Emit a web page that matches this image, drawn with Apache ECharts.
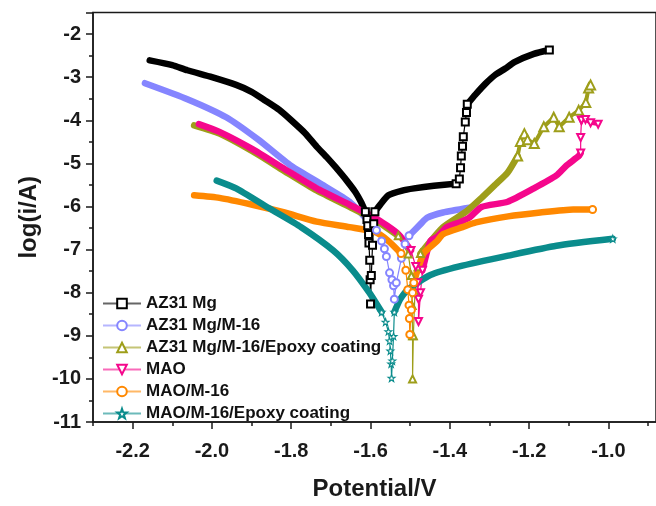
<!DOCTYPE html>
<html><head><meta charset="utf-8">
<script src="https://cdn.jsdelivr.net/npm/echarts@6/dist/echarts.min.js"></script>
<style>html,body{margin:0;padding:0;background:#fff}#chart{width:656px;height:506px}</style>
</head><body><div id="chart"></div>
<script>
// ---------------- data ----------------
const seriesNames = ['AZ31 Mg', 'AZ31 Mg/M-16', 'AZ31 Mg/M-16/Epoxy coating', 'MAO', 'MAO/M-16', 'MAO/M-16/Epoxy coating'];
const xTickLabels = [-2.2, -2.0, -1.8, -1.6, -1.4, -1.2, -1.0];
const xMinorTicks = [-2.3, -2.1, -1.9, -1.7, -1.5, -1.3, -1.1, -0.9];

// AZ31 Mg  [potential V, log(i/A)]
const az31Cath = [[-2.157,-2.61],[-2.10,-2.72],[-2.062,-2.84],[-2.00,-3.00],[-1.939,-3.18],[-1.90,-3.34],[-1.866,-3.54],[-1.83,-3.76],[-1.800,-4.00],[-1.765,-4.30],[-1.736,-4.61],[-1.71,-4.86],[-1.687,-5.10],[-1.66,-5.40],[-1.638,-5.67],[-1.625,-5.88],[-1.613,-6.12]];
const az31Spike = [[-1.613,-6.12],[-1.609,-6.30],[-1.607,-6.45],[-1.605,-6.65],[-1.604,-6.85],[-1.602,-7.25],[-1.601,-7.70],[-1.600,-8.26],[-1.598,-7.60],[-1.595,-6.90],[-1.592,-6.40],[-1.589,-6.12]];
const az31Anod1 = [[-1.589,-6.12],[-1.575,-5.95],[-1.555,-5.74],[-1.52,-5.63],[-1.490,-5.58],[-1.44,-5.52],[-1.384,-5.47]];
const az31Jump = [[-1.384,-5.47],[-1.376,-5.36],[-1.373,-5.10],[-1.371,-4.83],[-1.368,-4.60],[-1.366,-4.38],[-1.361,-4.04],[-1.358,-3.82],[-1.356,-3.63]];
const az31Anod2 = [[-1.356,-3.63],[-1.335,-3.40],[-1.31,-3.15],[-1.286,-2.95],[-1.26,-2.80],[-1.237,-2.65],[-1.188,-2.46],[-1.149,-2.37]];

// AZ31 Mg/M-16
const m16Cath = [[-2.169,-3.14],[-2.062,-3.51],[-1.964,-3.93],[-1.883,-4.45],[-1.800,-5.06],[-1.719,-5.51],[-1.653,-5.89],[-1.604,-6.35],[-1.585,-6.55]];
const m16Spike = [[-1.585,-6.55],[-1.572,-6.80],[-1.565,-6.98],[-1.560,-7.16],[-1.552,-7.54],[-1.546,-7.70],[-1.542,-7.84],[-1.540,-8.15],[-1.535,-7.77],[-1.522,-7.20],[-1.513,-6.87],[-1.503,-6.68]];
const m16Anod = [[-1.503,-6.68],[-1.474,-6.41],[-1.457,-6.26],[-1.417,-6.14],[-1.351,-6.03]];

// AZ31 Mg/M-16/Epoxy coating
const epoCath = [[-2.045,-4.12],[-1.981,-4.31],[-1.898,-4.72],[-1.817,-5.18],[-1.736,-5.63],[-1.653,-6.01],[-1.589,-6.31],[-1.530,-6.68]];
const epoSpike = [[-1.530,-6.68],[-1.505,-7.10],[-1.497,-7.60],[-1.495,-8.30],[-1.494,-9.00],[-1.494,-10.00],[-1.492,-9.00],[-1.488,-8.00],[-1.480,-7.40],[-1.474,-7.09]];
const epoAnod = [[-1.474,-7.09],[-1.417,-6.48],[-1.359,-6.12],[-1.320,-5.80],[-1.285,-5.49],[-1.254,-5.21],[-1.229,-4.83]];
const epoZig = [[-1.229,-4.83],[-1.222,-4.49],[-1.212,-4.31],[-1.204,-4.45],[-1.187,-4.54],[-1.163,-4.15],[-1.138,-3.93],[-1.124,-4.15],[-1.099,-3.93],[-1.075,-3.77],[-1.057,-3.59],[-1.050,-3.25],[-1.045,-3.18]];

// MAO
const maoCath = [[-2.033,-4.09],[-1.981,-4.27],[-1.898,-4.67],[-1.817,-5.13],[-1.736,-5.58],[-1.653,-5.96],[-1.589,-6.26],[-1.530,-6.64],[-1.498,-7.02]];
const maoSpike = [[-1.498,-7.02],[-1.486,-7.39],[-1.481,-7.77],[-1.479,-8.15],[-1.479,-8.67],[-1.474,-8.00],[-1.469,-7.48]];
const maoAnod = [[-1.469,-7.48],[-1.449,-6.80],[-1.432,-6.71],[-1.408,-6.48],[-1.376,-6.37],[-1.351,-6.26],[-1.320,-6.01],[-1.254,-5.89],[-1.188,-5.58],[-1.131,-5.28],[-1.107,-5.06],[-1.075,-4.83],[-1.070,-4.76]];
const maoJump = [[-1.070,-4.76],[-1.070,-4.40],[-1.068,-4.00]];
const maoTop = [[-1.068,-4.00],[-1.058,-3.98],[-1.045,-4.06],[-1.026,-4.09]];

// MAO/M-16
const mm16Cath = [[-2.045,-5.74],[-1.981,-5.80],[-1.898,-5.96],[-1.817,-6.14],[-1.736,-6.35],[-1.653,-6.48],[-1.589,-6.59],[-1.555,-6.80],[-1.523,-7.09]];
const mm16Spike = [[-1.523,-7.09],[-1.511,-7.48],[-1.506,-7.93],[-1.503,-8.29],[-1.502,-8.60],[-1.501,-8.97],[-1.497,-8.40],[-1.494,-8.00],[-1.491,-7.77]];
const mm16Anod = [[-1.491,-7.77],[-1.466,-7.09],[-1.432,-6.80],[-1.417,-6.64],[-1.368,-6.48],[-1.334,-6.37],[-1.253,-6.23],[-1.172,-6.14],[-1.089,-6.07],[-1.040,-6.07]];

// MAO/M-16/Epoxy coating
const meCath = [[-1.988,-5.40],[-1.939,-5.58],[-1.858,-6.03],[-1.775,-6.48],[-1.694,-7.02],[-1.645,-7.48],[-1.603,-8.00],[-1.572,-8.45]];
const meSpike = [[-1.572,-8.45],[-1.562,-8.68],[-1.555,-8.90],[-1.552,-9.12],[-1.550,-9.35],[-1.548,-9.65],[-1.547,-9.98],[-1.545,-9.58],[-1.542,-9.01],[-1.540,-8.45]];
const meAnod = [[-1.540,-8.45],[-1.525,-8.15],[-1.506,-7.93],[-1.449,-7.59],[-1.376,-7.39],[-1.253,-7.14],[-1.131,-6.91],[-0.989,-6.75]];

// ---------------- styling ----------------
const colors = ['#000000', '#8585FF', '#9E9E1A', '#F5078C', '#FF8800', '#0A8C8C'];
const starPath = 'path://M0,-10 L2.35,-3.24 L9.51,-3.09 L3.8,1.24 L5.88,8.09 L0,4 L-5.88,8.09 L-3.8,1.24 L-9.51,-3.09 L-2.35,-3.24 Z';
const symbols = ['emptyRect', 'emptyCircle', 'emptyTriangle', 'emptyTriangle', 'emptyCircle', starPath];
const rotates = [0, 0, 0, 180, 0, 0];
const FONT = 'Liberation Sans, Arial, sans-serif';

function markerStyle(i) {
  if (i === 5) return { color: '#ffffff', borderColor: colors[i], borderWidth: 1.1 };
  return { color: colors[i] };
}
function thinSeries(i, data, size) {
  return {
    type: 'line', name: seriesNames[i], data: data,
    symbol: symbols[i], symbolRotate: rotates[i], symbolSize: size || 7,
    showSymbol: true, showAllSymbol: true,
    lineStyle: { color: colors[i], width: 1.2 },
    itemStyle: markerStyle(i),
    animation: false, silent: true
  };
}
function thickSeries(i, data, width) {
  return {
    type: 'line', name: seriesNames[i], data: data,
    showSymbol: false, symbol: 'none', smooth: 0.2,
    lineStyle: { color: colors[i], width: width || 6.5, cap: 'round', join: 'round' },
    itemStyle: { color: colors[i] },
    animation: false, silent: true
  };
}
function last(arr) { return [arr[arr.length - 1]]; }

const series = [
  thinSeries(0, az31Spike), thickSeries(0, az31Cath), thickSeries(0, az31Anod1), thinSeries(0, az31Jump), thickSeries(0, az31Anod2), thinSeries(0, last(az31Anod2)),
  thinSeries(1, m16Spike), thickSeries(1, m16Cath), thickSeries(1, m16Anod),
  thinSeries(2, epoSpike), thickSeries(2, epoCath), thickSeries(2, epoAnod), Object.assign(thinSeries(2, epoZig, 9), { lineStyle: { color: colors[2], width: 4 } }),
  thinSeries(3, maoSpike), thickSeries(3, maoCath), thickSeries(3, maoAnod), thinSeries(3, maoJump), Object.assign(thinSeries(3, maoTop, 7), { lineStyle: { color: colors[3], width: 4 } }),
  thinSeries(4, mm16Spike), thickSeries(4, mm16Cath), thickSeries(4, mm16Anod), thinSeries(4, last(mm16Anod)),
  thinSeries(5, meSpike), thickSeries(5, meCath), thickSeries(5, meAnod), thinSeries(5, last(meAnod))
];

const axisColor = '#1a1a1a';
const option = {
  backgroundColor: '#ffffff',
  animation: false,
  grid: { left: 93, top: 12.5, width: 580, height: 420.5, show: true, borderColor: axisColor, borderWidth: 1.5 },
  legend: {
    orient: 'vertical', left: 102, top: 295, padding: 0, itemGap: 5, itemWidth: 38, itemHeight: 12,
    data: seriesNames, selectedMode: false,
    lineStyle: { width: 2, opacity: 0.6 },
    textStyle: { fontSize: 17, fontWeight: 'bold', color: '#111', fontFamily: FONT }
  },
  xAxis: [
    {
      type: 'value', min: -2.3, max: -0.88, position: 'bottom',
      axisLine: { show: true, onZero: false, lineStyle: { color: axisColor, width: 1.5 } },
      axisTick: { show: true, customValues: xTickLabels, length: 7, lineStyle: { color: axisColor, width: 1.5 } },
      axisLabel: { customValues: xTickLabels, formatter: v => Number(v).toFixed(1), fontSize: 20, fontWeight: 'bold', color: axisColor, fontFamily: FONT, margin: 19 },
      splitLine: { show: false },
      name: 'Potential/V', nameLocation: 'middle', nameGap: 55,
      nameTextStyle: { fontSize: 24, fontWeight: 'bold', color: axisColor, fontFamily: FONT }
    },
    {
      type: 'value', min: -2.3, max: -0.88, position: 'bottom',
      axisLine: { show: false },
      axisTick: { show: true, customValues: xMinorTicks, length: 4, lineStyle: { color: axisColor, width: 1.5 } },
      axisLabel: { show: false }, splitLine: { show: false }
    }
  ],
  yAxis: {
    type: 'value', min: -11, max: -1.5, interval: 1,
    axisLine: { show: true, onZero: false, lineStyle: { color: axisColor, width: 1.5 } },
    axisTick: { show: true, length: 7, lineStyle: { color: axisColor, width: 1.5 } },
    minorTick: { show: true, splitNumber: 2, length: 4, lineStyle: { color: axisColor, width: 1.5 } },
    axisLabel: { fontSize: 20, fontWeight: 'bold', color: axisColor, fontFamily: FONT, margin: 12, showMaxLabel: false },
    splitLine: { show: false }, minorSplitLine: { show: false },
    name: 'log(i/A)', nameLocation: 'middle', nameGap: 52, nameRotate: 90,
    nameTextStyle: { fontSize: 24, fontWeight: 'bold', color: axisColor, fontFamily: FONT }
  },
  series: series
};
const chart = echarts.init(document.getElementById('chart'), null, { renderer: 'canvas' });
chart.setOption(option);
</script></body></html>
